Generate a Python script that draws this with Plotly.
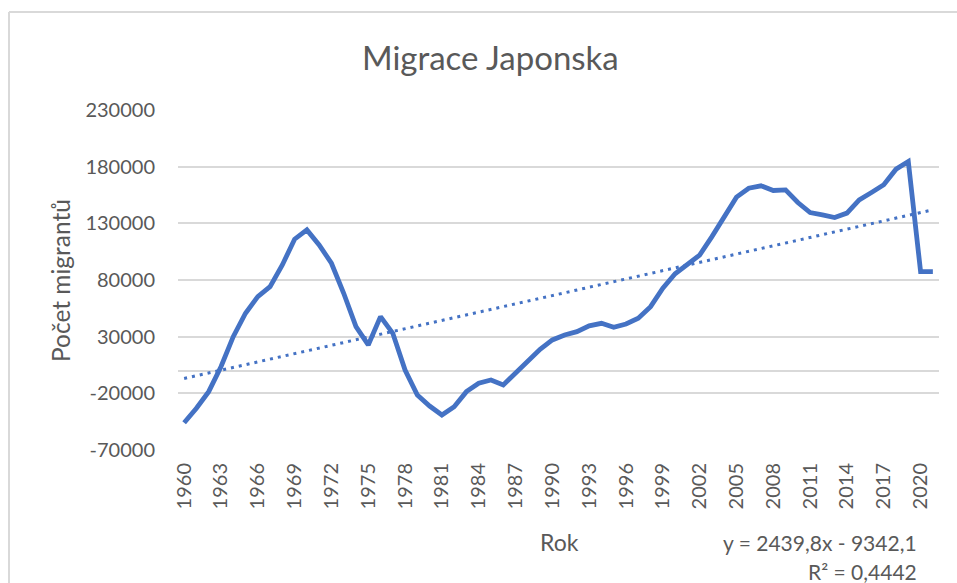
import plotly.graph_objects as go

years = list(range(1960, 2022))
migrants = [
    -46000, -33200, -18500, 3500, 30000, 50700, 65300, 74200, 93300, 116000,
    124200, 111000, 94800, 68300, 38900, 22700, 47700, 33000, 600, -21500,
    -31200, -39100, -31800, -18500, -11100, -8200, -12600, -2300, 9400, 18900,
    27100, 31500, 34400, 39500, 41800, 38300, 41200, 46300, 56500, 72700,
    85500, 93300, 102000, 118300, 136000, 153100, 161000, 163100, 159000, 159500,
    148400, 139500, 137500, 135100, 139000, 150700, 157200, 164000, 177800, 184600,
    87400, 87400,
]
trend_slope = 2439.8
trend_intercept = -9342.1
x_tick_years = list(range(1960, 2021, 3))
y_tick_values = list(range(-70000, 230001, 50000))

title_text = "Migrace Japonska"
x_title = "Rok"
y_title = "Počet migrantů"
eq_text = "y = 2439,8x - 9342,1"
r2_text = "R² = 0,4442"

trend = [trend_slope * (i + 1) + trend_intercept for i in range(len(years))]

FONT = "Lato"
GREY = "#595959"
BLUE = "#4472C4"
GRID = "#D9D9D9"

fig = go.Figure()
fig.add_trace(go.Scatter(
    x=years, y=migrants, mode="lines",
    line=dict(color=BLUE, width=4.8), hoverinfo="skip", showlegend=False,
))
fig.add_trace(go.Scatter(
    x=years, y=trend, mode="lines",
    line=dict(color=BLUE, width=3, dash="3px,5px"), hoverinfo="skip", showlegend=False,
))

W, H = 957, 583
L, R, T, B = 178, 18, 110, 133
pw, ph = W - L - R, H - T - B

def px_x(p):
    return (p - L) / pw

def px_y(p):
    return (H - B - p) / ph

fig.update_layout(
    width=W, height=H,
    margin=dict(l=L, r=R, t=T, b=B),
    paper_bgcolor="white", plot_bgcolor="white",
    font=dict(family=FONT, color=GREY, size=20),
    xaxis=dict(
        range=[1959.5, 2021.5], tickmode="array", tickvals=x_tick_years,
        ticktext=[str(y) for y in x_tick_years], tickangle=-90,
        showgrid=False, zeroline=False, showline=False, ticks="",
        tickfont=dict(family=FONT, size=20, color=GREY), ticklabelstandoff=8,
    ),
    yaxis=dict(
        range=[-70000, 230000], tickmode="array", tickvals=y_tick_values,
        ticktext=[str(v) for v in y_tick_values],
        showgrid=True, gridcolor=GRID, gridwidth=1.5,
        zeroline=True, zerolinecolor=GRID, zerolinewidth=1.5,
        showline=False, ticks="",
        tickfont=dict(family=FONT, size=20, color=GREY), ticklabelstandoff=22,
    ),
    shapes=[
        dict(type="line", xref="paper", yref="paper",
             x0=px_x(9), x1=px_x(9), y0=px_y(583), y1=px_y(12),
             line=dict(color=GRID, width=2), layer="below"),
        dict(type="line", xref="paper", yref="paper",
             x0=px_x(9), x1=px_x(957), y0=px_y(12), y1=px_y(12),
             line=dict(color=GRID, width=2), layer="below"),
    ],
    annotations=[
        dict(text=title_text, xref="paper", yref="paper", x=px_x(490), y=px_y(57),
             showarrow=False, font=dict(family=FONT, size=33, color=GREY),
             xanchor="center", yanchor="middle"),
        dict(text=y_title, xref="paper", yref="paper", x=px_x(60), y=px_y(281),
             showarrow=False, textangle=-90, font=dict(family=FONT, size=24.5, color=GREY),
             xanchor="center", yanchor="middle"),
        dict(text=x_title, xref="paper", yref="paper", x=px_x(559), y=px_y(542),
             showarrow=False, font=dict(family=FONT, size=23, color=GREY),
             xanchor="center", yanchor="middle"),
        dict(text=eq_text, xref="paper", yref="paper", x=px_x(919), y=px_y(542),
             showarrow=False, font=dict(family=FONT, size=21, color=GREY),
             xanchor="right", yanchor="middle"),
        dict(text=r2_text, xref="paper", yref="paper", x=px_x(919), y=px_y(571),
             showarrow=False, font=dict(family=FONT, size=21, color=GREY),
             xanchor="right", yanchor="middle"),
    ],
)

fig.write_html(
    "out.html",
    config={"displayModeBar": False},
    post_script=(
        "document.documentElement.style.margin='0';"
        "document.documentElement.style.overflow='hidden';"
        "document.body.style.margin='0';"
        "document.body.style.overflow='hidden';"
    ),
)
